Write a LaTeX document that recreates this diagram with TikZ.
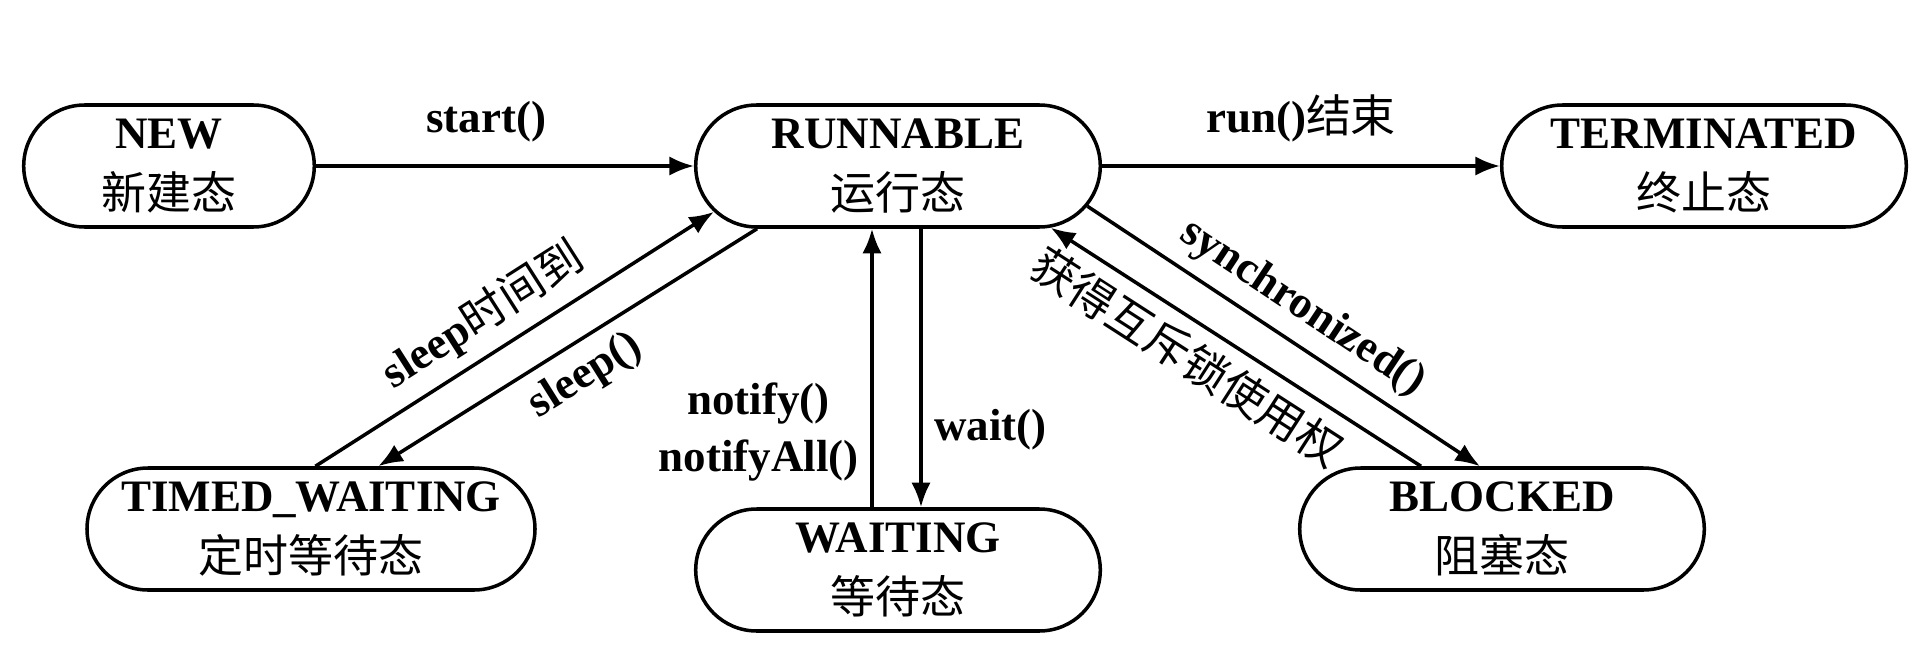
\documentclass[tikz,border=0pt]{standalone}
\usepackage{fontspec}
\setmainfont{Liberation Serif}
\newfontfamily\cjk{Noto Sans CJK SC}
\usetikzlibrary{shapes.misc, arrows.meta}

\begin{document}
\begin{tikzpicture}[line width=1pt, >={Latex[length=7pt,width=5.5pt]},
    main/.style = {draw, rounded rectangle, minimum height=1.22cm, minimum width=4.28cm, align=center, font=\fontsize{12.8}{17.3}\selectfont},
    lbl/.style = {font=\fontsize{12.8}{16.3}\selectfont\bfseries}]
        \useasboundingbox (0,0) rectangle (19.13,6.66);
        \node[main, minimum width=3.14cm] (1) at (1.69,5.0) {\textbf{NEW}\\{\cjk 新建态}};
        \node[main] (2) [right of=1, node distance=7.29cm] {\textbf{RUNNABLE}\\{\cjk 运行态}};
        \node[main] (3) [right of=2, node distance=8.06cm] {\textbf{TERMINATED}\\{\cjk 终止态}};
        \node[main] (4) [below of=2, node distance=4.04cm] {\textbf{WAITING}\\{\cjk 等待态}};
        \node[main, minimum width=4.44cm] (5) [below of=1, node distance=3.63cm, xshift=1.42cm] {\textbf{TIMED\_WAITING}\\{\cjk 定时等待态}};
        \node[main] (6) [below of=3, node distance=3.63cm, xshift=-2.02cm] {\textbf{BLOCKED}\\{\cjk 阻塞态}};
        \draw[->] (1) -- node[lbl, above=0.1cm, pos=0.45] {start()} (2);
        \draw[->] (2) -- node[lbl, above=0.1cm] {run(){\mdseries\cjk 结束}} (3);
        \draw[->] (5.86) -- node[lbl, sloped, above, pos=0.47] {sleep{\mdseries\cjk 时间到}} (2.194);
        \draw[->] (2.204) -- node[lbl, sloped, below] {sleep()} (5.43);
        \draw[->] ([xshift=-0.26cm]4.north) -- node[lbl, left, pos=0.27, align=center] {notify()\\notifyAll()} ([xshift=-0.26cm]2.south);
        \draw[->] ([xshift=0.23cm]2.south) -- node[lbl, right, pos=0.72] {wait()} ([xshift=0.23cm]4.north);
        \draw[->] (2.348) -- node[lbl, sloped, above] {synchronized()} ([xshift=-0.22cm]6.north);
        \draw[->] ([xshift=-0.81cm]6.north) -- node[lbl, sloped, below, pos=0.58] {\mdseries\cjk 获得互斥锁使用权} (2.338.5);
    \end{tikzpicture}
\end{document}
